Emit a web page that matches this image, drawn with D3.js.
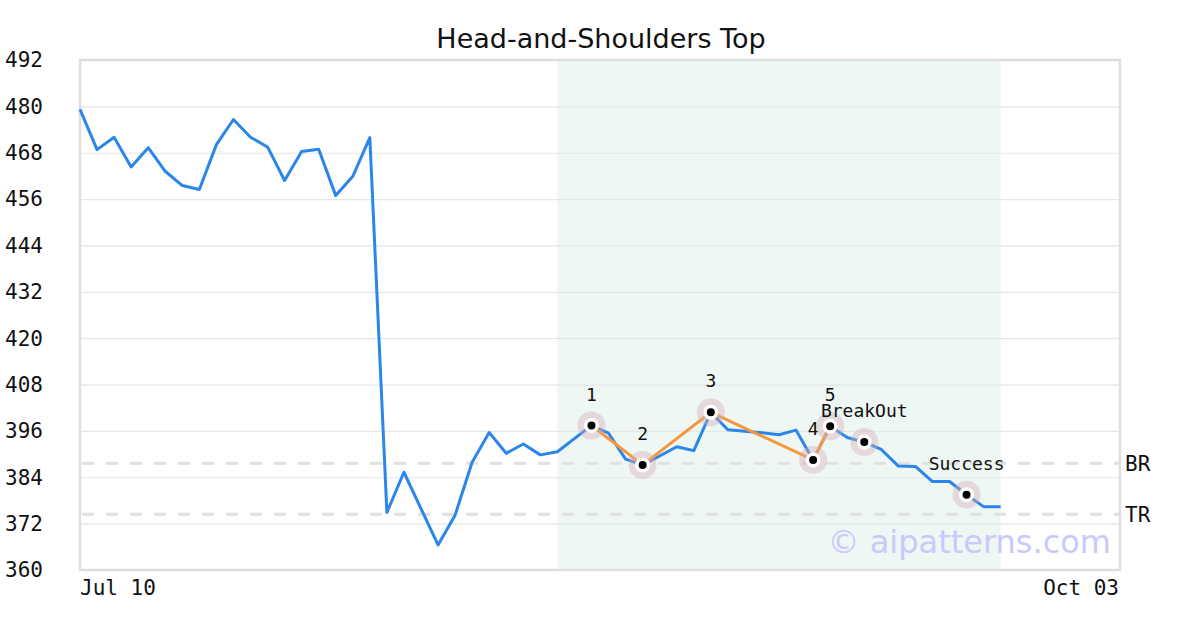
<!DOCTYPE html>
<html>
<head>
<meta charset="utf-8">
<script src="https://cdn.jsdelivr.net/npm/d3@7"></script>
<style>
  body { margin: 0; background: #fff; }
  svg text { font-family: "DejaVu Sans Mono", monospace; }
</style>
</head>
<body>
<div id="chart"></div>
<script>
// price series, one value per trading bar
var prices = [479.2, 468.8, 472.0, 464.3, 469.3, 463.2, 459.5, 458.5, 470.1, 476.6,
              472.0, 469.5, 460.8, 468.3, 468.9, 456.9, 461.9, 471.9, 374.9, 385.3,
              375.9, 366.5, 374.2, 387.9, 395.6, 390.2, 392.6, 389.8, 390.6, 394.0,
              397.4, 395.4, 388.7, 387.2, 389.5, 391.9, 390.9, 400.8, 396.3, 395.9,
              395.5, 395.0, 396.2, 388.5, 397.2, 394.3, 393.1, 391.2, 386.9, 386.8,
              382.9, 382.9, 379.5, 376.4, 376.4];

// pattern pivots (bar index) and labels
var pivotIdx = [30, 33, 37, 43, 44];
var pivotLabels = ["1", "2", "3", "4", "5"];
var eventIdx = [46, 52];
var eventLabels = ["BreakOut", "Success"];

// shaded pattern window (bar index)
var zoneRange = [28, 54];

// reference levels
var levels = [387.6, 374.4];
var levelLabels = ["BR", "TR"];

var yTicks = [360, 372, 384, 396, 408, 420, 432, 444, 456, 468, 480, 492];
var xLabels = ["Jul 10", "Oct 03"];
var nSlots = 61;

var margin = {top: 60, right: 80, bottom: 60, left: 80},
    W = 1200, H = 630,
    width = W - margin.left - margin.right,
    height = H - margin.top - margin.bottom;

var svg = d3.select("#chart").append("svg")
    .attr("width", W)
    .attr("height", H);

var g = svg.append("g")
    .attr("transform", "translate(" + margin.left + "," + margin.top + ")");

var x = d3.scaleLinear().domain([0, nSlots]).range([0, width]);
var y = d3.scaleLinear().domain([360, 492]).range([height, 0]);

// title
svg.append("text")
    .attr("x", W / 2 + 1)
    .attr("y", 48)
    .attr("text-anchor", "middle")
    .style("font-family", "'DejaVu Sans', sans-serif")
    .style("font-size", "27px")
    .attr("fill", "#111")
    .text("Head-and-Shoulders Top");

// shaded zone
g.append("rect")
    .attr("x", x(zoneRange[0]))
    .attr("y", 0)
    .attr("width", x(zoneRange[1]) - x(zoneRange[0]))
    .attr("height", height)
    .attr("fill", "#eef7f3");

// grid
g.append("g")
  .call(d3.axisLeft(y).tickValues(yTicks).tickSize(-width).tickFormat(""))
  .call(function(s) { s.select(".domain").remove(); })
  .selectAll(".tick line").attr("stroke", "#e6e6e6").attr("stroke-width", 1.2);

// y labels, left aligned at page edge
g.append("g").selectAll("text")
  .data(yTicks)
  .enter().append("text")
    .attr("x", -75)
    .attr("y", function(d) { return y(d); })
    .attr("dy", "0.35em")
    .style("font-size", "21px")
    .attr("fill", "#111")
    .text(function(d) { return d; });

// x labels at ends
g.append("text")
    .attr("x", 0).attr("y", height + 25)
    .style("font-size", "21px").attr("fill", "#111")
    .text(xLabels[0]);
g.append("text")
    .attr("x", width - 1).attr("y", height + 25)
    .attr("text-anchor", "end")
    .style("font-size", "21px").attr("fill", "#111")
    .text(xLabels[1]);

// watermark
g.append("text")
    .attr("x", width - 9)
    .attr("y", y(360) - 17)
    .attr("text-anchor", "end")
    .style("font-family", "'DejaVu Sans', sans-serif")
    .style("font-size", "32px")
    .attr("fill", "#c9c9fb")
    .text("\u00a9 aipatterns.com");

// level lines
g.append("g").selectAll("line")
  .data(levels)
  .enter().append("line")
    .attr("x1", 2).attr("x2", width)
    .attr("y1", function(d) { return y(d); })
    .attr("y2", function(d) { return y(d); })
    .attr("stroke", "#e0e0e0")
    .attr("stroke-width", 3)
    .attr("stroke-dasharray", "12,12");

g.append("g").selectAll("text")
  .data(levels)
  .enter().append("text")
    .attr("x", width + 5)
    .attr("y", function(d) { return y(d); })
    .attr("dy", "0.35em")
    .style("font-size", "21px")
    .attr("fill", "#111")
    .text(function(d, i) { return levelLabels[i]; });

// border
g.append("rect")
    .attr("width", width).attr("height", height)
    .attr("fill", "none")
    .attr("stroke", "#dedede")
    .attr("stroke-width", 2.5);

// price line
var line = d3.line()
    .x(function(d, i) { return x(i); })
    .y(function(d) { return y(d); });

g.append("path")
    .datum(prices)
    .attr("fill", "none")
    .attr("stroke", "#2a86e8")
    .attr("stroke-width", 3)
    .attr("stroke-linejoin", "round")
    .attr("d", line);

// pattern line through pivots
g.append("path")
    .datum(pivotIdx)
    .attr("fill", "none")
    .attr("stroke", "#f5973f")
    .attr("stroke-width", 3)
    .attr("d", d3.line()
        .x(function(i) { return x(i); })
        .y(function(i) { return y(prices[i]); }));

// markers
var marks = pivotIdx.map(function(d, i) { return {i: d, label: pivotLabels[i]}; })
  .concat(eventIdx.map(function(d, i) { return {i: d, label: eventLabels[i]}; }));

var m = g.append("g").selectAll("g")
  .data(marks)
  .enter().append("g")
    .attr("transform", function(d) { return "translate(" + x(d.i) + "," + y(prices[d.i]) + ")"; });

m.append("circle").attr("r", 14).attr("fill", "rgba(215,170,180,0.4)");
m.append("circle").attr("r", 7.5).attr("fill", "#fff");
m.append("circle").attr("r", 4).attr("fill", "#000");

m.append("text")
    .attr("y", -25)
    .attr("text-anchor", "middle")
    .style("font-size", "18px")
    .attr("fill", "#111")
    .text(function(d) { return d.label; });
</script>
</body>
</html>
